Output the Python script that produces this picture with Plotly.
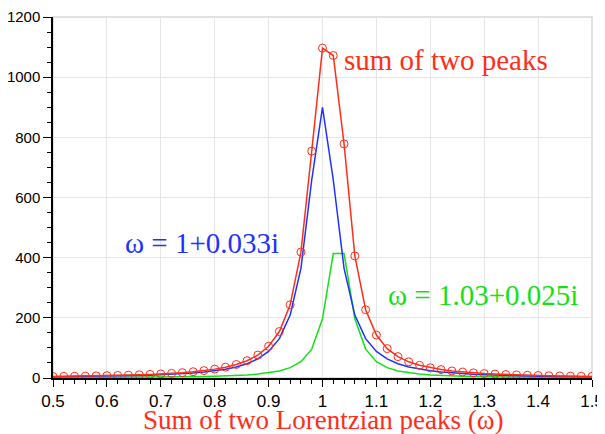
import plotly.graph_objects as go

# Sampled frequencies (step 0.02)
omega = [round(0.5 + 0.02 * i, 2) for i in range(51)]

# Peak 1: omega = 1 + 0.033i (blue)
peak_blue = [3.90, 4.23, 4.61, 5.03, 5.52, 6.08, 6.74, 7.50, 8.40, 9.47,
             10.8, 12.3, 14.3, 16.7, 19.8, 23.9, 29.3, 36.7, 47.4, 63.3,
             88.4, 130.9, 209.0, 364.4, 658.2, 899.9, 658.2, 364.4, 209.0, 130.9,
             88.4, 63.3, 47.4, 36.7, 29.3, 23.9, 19.8, 16.7, 14.3, 12.3,
             10.8, 9.47, 8.40, 7.50, 6.74, 6.08, 5.52, 5.03, 4.61, 4.23, 3.90]

# Peak 2: omega = 1.03 + 0.025i (green)
peak_green = [1.07, 1.15, 1.25, 1.35, 1.48, 1.62, 1.78, 1.96, 2.18, 2.44,
              2.74, 3.10, 3.54, 4.08, 4.75, 5.61, 6.71, 8.17, 10.2, 13.0,
              17.1, 23.6, 34.4, 54.3, 96.0, 196.7, 413.8, 413.8, 196.7, 96.0,
              54.3, 34.4, 23.6, 17.1, 13.0, 10.2, 8.17, 6.71, 5.61, 4.75,
              4.08, 3.54, 3.10, 2.74, 2.44, 2.18, 1.96, 1.78, 1.62, 1.48, 1.35]

# Sum of two peaks (red line + circles)
peak_sum = [4.97, 5.38, 5.86, 6.38, 7.00, 7.70, 8.52, 9.46, 10.6, 11.9,
            13.5, 15.4, 17.8, 20.8, 24.6, 29.5, 36.0, 44.9, 57.5, 76.2,
            105.5, 154.5, 243.4, 418.7, 754.2, 1096.6, 1072.0, 778.2, 405.7, 226.9,
            142.7, 97.7, 71.0, 53.8, 42.2, 34.0, 28.0, 23.4, 19.9, 17.1,
            14.8, 13.0, 11.5, 10.2, 9.18, 8.26, 7.48, 6.81, 6.23, 5.71, 5.25]

x_ticks = [0.5, 0.6, 0.7, 0.8, 0.9, 1.0, 1.1, 1.2, 1.3, 1.4, 1.5]
x_tick_labels = ["0.5", "0.6", "0.7", "0.8", "0.9", "1", "1.1", "1.2", "1.3", "1.4", "1.5"]
y_ticks = [0, 200, 400, 600, 800, 1000, 1200]

RED = "rgb(255,45,25)"
BLUE = "rgb(30,50,255)"
GREEN = "rgb(20,225,20)"
SERIF = "Liberation Serif, Times New Roman, serif"
SANS = "Liberation Sans, Arial, sans-serif"

fig = go.Figure()
fig.add_trace(go.Scatter(x=omega, y=peak_green, mode="lines",
                         line=dict(color=GREEN, width=1.5)))
fig.add_trace(go.Scatter(x=omega, y=peak_blue, mode="lines",
                         line=dict(color=BLUE, width=1.5)))
fig.add_trace(go.Scatter(x=omega, y=peak_sum, mode="lines+markers",
                         line=dict(color=RED, width=1.5),
                         marker=dict(symbol="circle-open", size=8,
                                     color=RED, line=dict(width=1))))

fig.add_shape(type="rect", xref="paper", yref="paper", x0=0, y0=0, x1=1, y1=1,
              line=dict(color="#d8d8d8", width=1.5), layer="below")

fig.add_annotation(x=1.036, y=1057, xref="x", yref="y", text="sum of two peaks",
                   showarrow=False, xanchor="left", yanchor="middle",
                   font=dict(family=SERIF, size=29, color=RED))
fig.add_annotation(x=0.776, y=449, xref="x", yref="y", text="ω = 1+0.033i",
                   showarrow=False, xanchor="center", yanchor="middle",
                   font=dict(family=SERIF, size=29, color=BLUE))
fig.add_annotation(x=1.298, y=276, xref="x", yref="y", text="ω = 1.03+0.025i",
                   showarrow=False, xanchor="center", yanchor="middle",
                   font=dict(family=SERIF, size=29, color=GREEN))
# x-axis title
fig.add_annotation(x=0.5, y=-0.117, xref="paper", yref="paper",
                   text="Sum of two Lorentzian peaks (ω)",
                   showarrow=False, xanchor="center", yanchor="middle",
                   font=dict(family=SERIF, size=27, color=RED))

# page body has an 8px default margin, so the figure is sized to fit the window
fig.update_layout(
    width=597, height=426,
    margin=dict(l=45, r=13, t=9, b=56),
    paper_bgcolor="white", plot_bgcolor="white",
    showlegend=False,
    font=dict(family=SANS, size=15, color="black"),
    xaxis=dict(range=[0.5, 1.5], tickvals=x_ticks, ticktext=x_tick_labels,
               automargin=False, tickfont=dict(family=SANS, size=17),
               showgrid=True, gridcolor="#e6e6e6", gridwidth=1,
               showline=True, linecolor="black", linewidth=1.5,
               ticks="outside", ticklen=7, tickwidth=1.2, tickcolor="black",
               zeroline=False,
               minor=dict(dtick=0.02, tick0=0.5, ticks="outside", ticklen=4,
                          tickcolor="black", showgrid=False)),
    yaxis=dict(range=[0, 1200], tickvals=y_ticks,
               automargin=False, tickfont=dict(family=SANS, size=15),
               showgrid=True, gridcolor="#e6e6e6", gridwidth=1,
               showline=True, linecolor="black", linewidth=1.5,
               ticks="outside", ticklen=8, tickwidth=1.2, tickcolor="black",
               zeroline=False,
               minor=dict(dtick=50, tick0=0, ticks="outside", ticklen=4,
                          tickcolor="black", showgrid=False)),
)

fig.write_html("out.html")
